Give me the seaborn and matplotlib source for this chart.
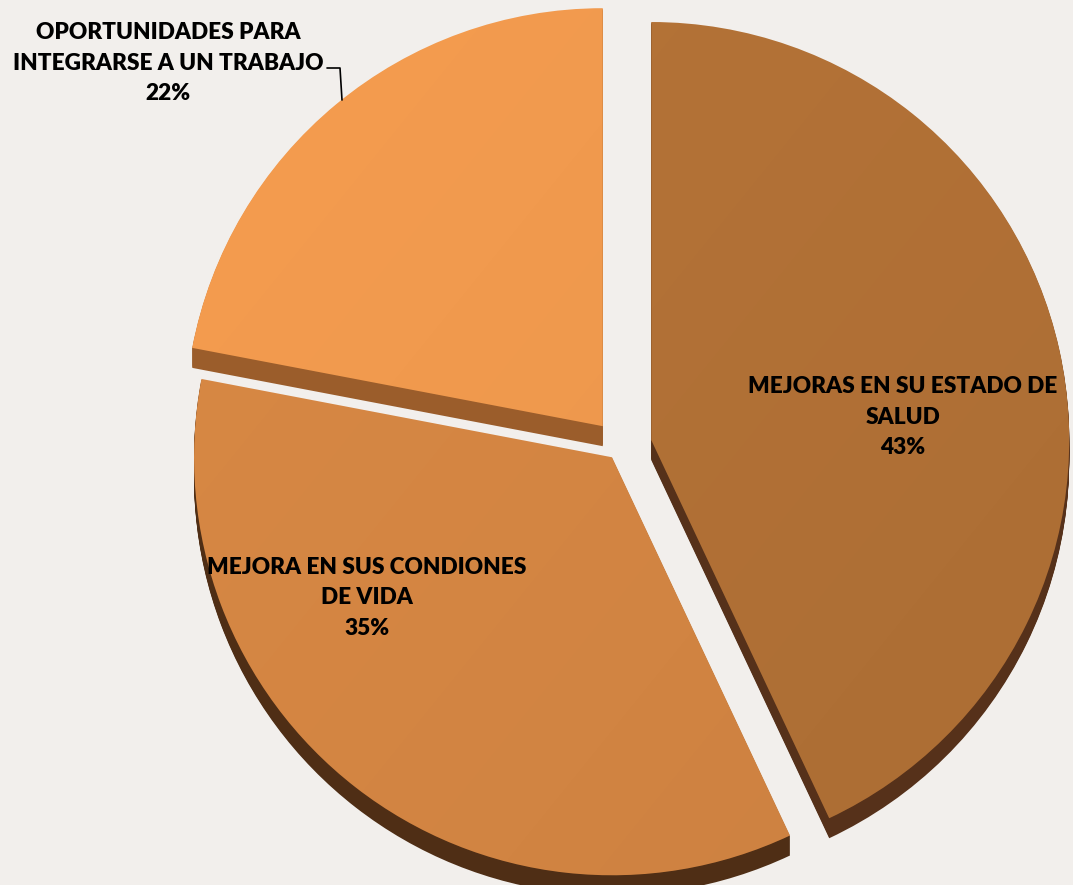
import matplotlib
matplotlib.use("Agg")
import matplotlib.pyplot as plt
import seaborn as sns
import numpy as np

# Survey results
categories = [
    "MEJORAS EN SU ESTADO DE\nSALUD",
    "MEJORA EN SUS CONDIONES\nDE VIDA",
    "OPORTUNIDADES PARA\nINTEGRARSE A UN TRABAJO",
]
values = [43, 35, 22]

# Styling
top_colors = ["#b87538", "#db8a45", "#f79e50"]
side_colors = ["#56311a", "#4f2e15", "#9b5d2b"]
explode = [32, 13, 27]          # offset of each slice from the centre, in pixels
background = "#f2efec"

sns.set_theme(style="white")
plt.rcParams["font.family"] = ["Lato", "DejaVu Sans"]

W, H = 1073, 885
fig = plt.figure(figsize=(W / 100, H / 100), dpi=100, facecolor=background)
ax = fig.add_axes([0, 0, 1, 1])
ax.set_facecolor(background)

cx, cy = 620, 438
radius = 418
depth = 20

# Extruded sides: stack of darker pies stepping downward
for d in range(depth, 0, -1):
    ax.pie(values, radius=radius, center=(cx, cy - d), explode=explode,
           colors=side_colors, startangle=90, counterclock=False,
           wedgeprops=dict(linewidth=0, antialiased=True))

# Top faces
wedges, _ = ax.pie(values, radius=radius, center=(cx, cy), explode=explode,
                   colors=top_colors, startangle=90, counterclock=False,
                   wedgeprops=dict(linewidth=0))

# Soft lighting: darken gently towards the lower right of each face
yy, xx = np.mgrid[0:H, 0:W]
shade = np.clip(xx / W * 0.6 + (1 - yy / H) * 0.4, 0, 1)
overlay = np.zeros((H, W, 4))
overlay[..., 3] = 0.07 * shade
for w in wedges:
    im = ax.imshow(overlay, extent=(0, W, 0, H), origin="lower",
                   zorder=w.get_zorder() + 0.1, interpolation="bilinear")
    im.set_clip_path(w)

ax.set_xlim(0, W)
ax.set_ylim(0, H)
ax.set_aspect("equal")
ax.axis("off")

label_kw = dict(ha="center", va="center", fontsize=16.3, fontweight="heavy",
                color="black", linespacing=1.55, multialignment="center", zorder=10)
ax.text(903, H - 417, f"{categories[0]}\n{values[0]}%", **label_kw)
ax.text(367, H - 598, f"{categories[1]}\n{values[1]}%", **label_kw)
ax.text(168, H - 63, f"{categories[2]}\n{values[2]}%", **label_kw)

# Leader line for the outside label
ax.plot([327, 340, 342], [H - 68, H - 68, H - 100], color="black", lw=1.2, zorder=10)

fig.savefig("out.png", dpi=100, facecolor=background)
